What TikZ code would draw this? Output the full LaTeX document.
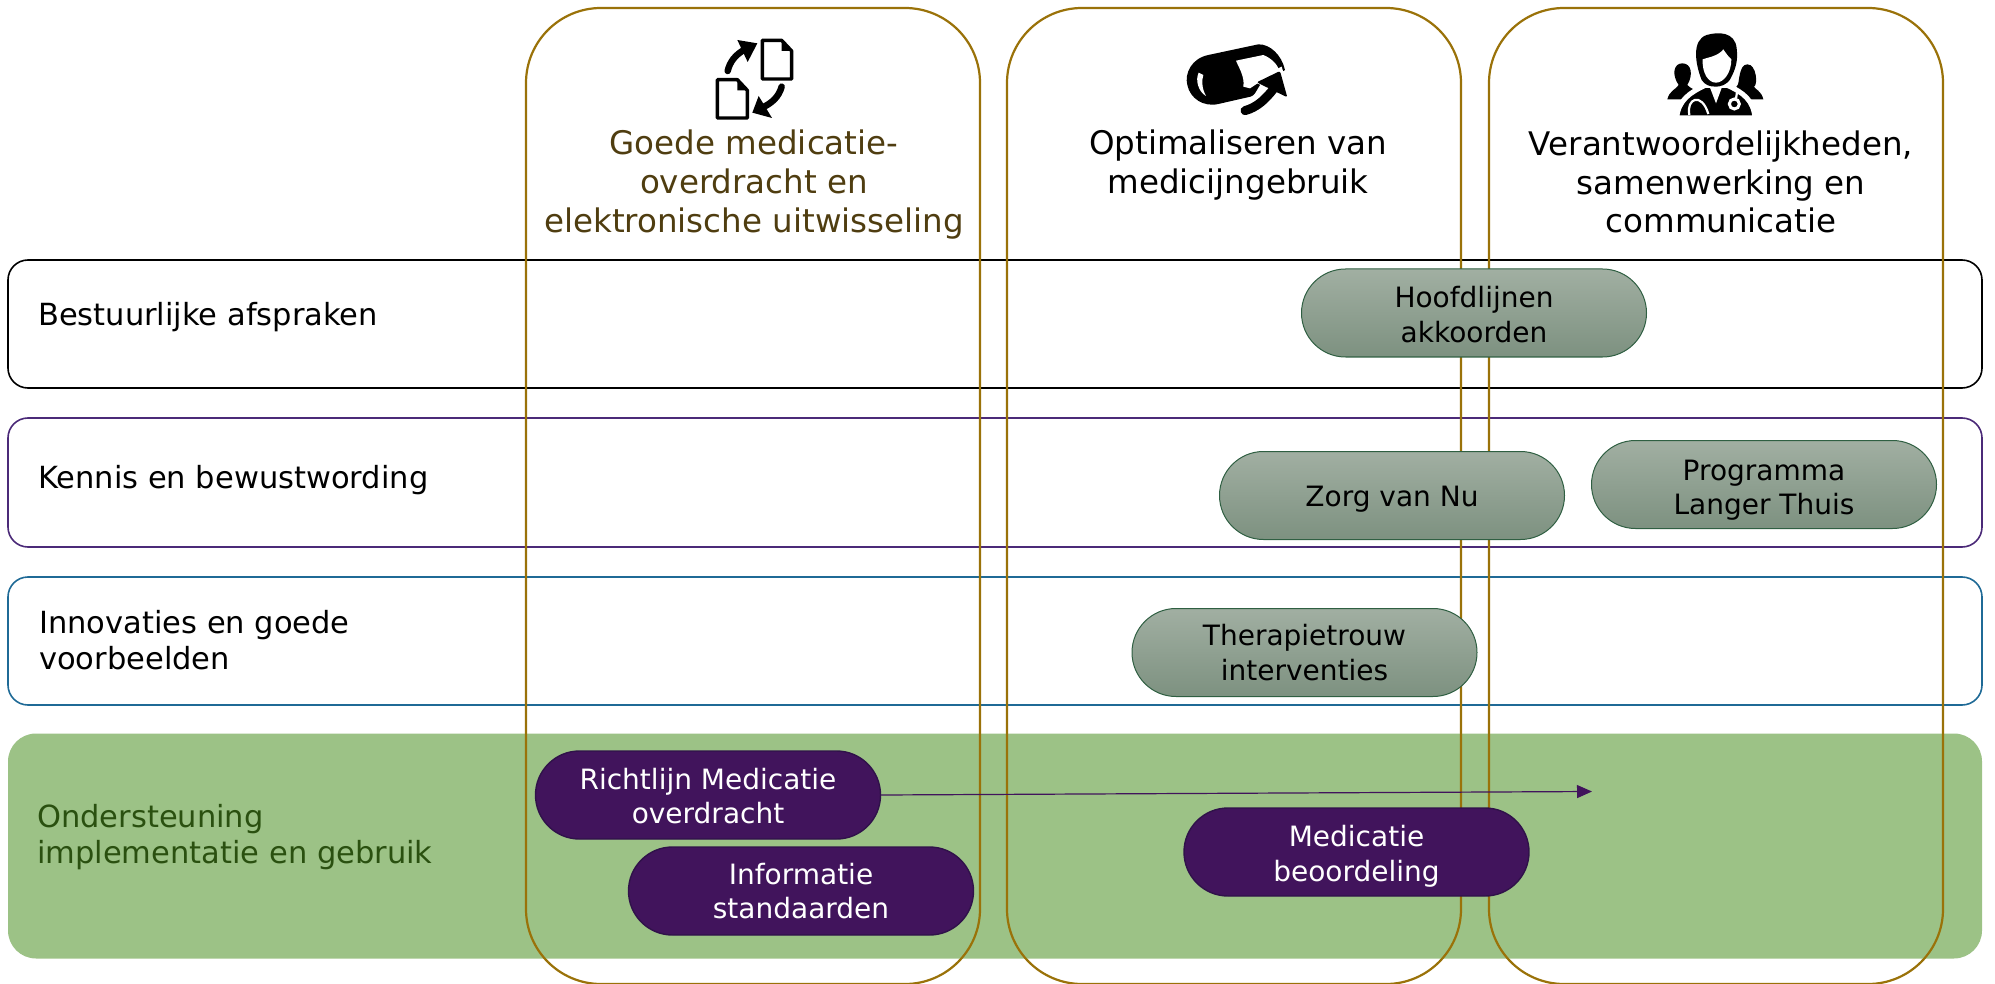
\documentclass[tikz,border=0pt]{standalone}
\usepackage{fontspec}
\setmainfont{DejaVu Sans}
\usetikzlibrary{arrows.meta,shapes.misc}
\definecolor{gold}{HTML}{9A7209}
\definecolor{brownT}{HTML}{4F3D10}
\definecolor{greenT}{HTML}{2A5010}
\definecolor{band}{HTML}{9CC286}
\definecolor{plum}{HTML}{41145C}
\definecolor{plumB}{HTML}{30124A}
\definecolor{rowP}{HTML}{4B2A78}
\definecolor{rowB}{HTML}{1F6A96}
\definecolor{sageT}{HTML}{A1AFA2}
\definecolor{sageB}{HTML}{7D9180}
\definecolor{sageL}{HTML}{2F5F42}
\newcommand{\lowerby}[1]{\rule{0pt}{#1}}
\tikzset{
  rowbox/.style={draw,line width=1.6pt,rounded corners=20pt,minimum width=1974pt,inner sep=0pt},
  colbox/.style={draw=gold,line width=2.2pt,rounded corners=75pt,minimum width=454pt,minimum height=976pt,inner sep=0pt},
  pillbase/.style={rounded rectangle,minimum width=345pt,minimum height=88pt,inner sep=0pt,align=center,font=\fontsize{28}{34.5}\selectfont},
  greenpill/.style={pillbase,draw=sageL,line width=1pt,top color=sageT,bottom color=sageB,text=black},
  plumpill/.style={pillbase,fill=plum,draw=plumB,line width=1.4pt,text=white},
  rowlabel/.style={anchor=west,inner sep=0pt,align=left,font=\fontsize{30.5}{36}\selectfont},
  headlabel/.style={inner sep=0pt,align=center,font=\fontsize{32.5}{38.8}\selectfont},
  icon/.style={fill=black,draw=none}
}
\begin{document}
\begin{tikzpicture}[x=1pt,y=-1pt]
\useasboundingbox (0,0) rectangle (1995,984);
% rows
\node[rowbox,draw=black,minimum height=128pt] (rowA) at (995,324) {};
\node[rowbox,draw=rowP,minimum height=129pt] (rowB) at (995,482.5) {};
\node[rowbox,draw=rowB,minimum height=128pt] (rowC) at (995,641) {};
\node[rowbox,draw=none,fill=band,rounded corners=28pt,minimum height=225pt] (rowD) at (995,846) {};
% columns
\node[colbox] (colA) at (753,496) {};
\node[colbox] (colB) at (1234,496) {};
\node[colbox] (colC) at (1716,496) {};
% row labels
\node[rowlabel] (lblA) at (38,317) {Bestuurlijke afspraken};
\node[rowlabel] (lblB) at (38,480) {Kennis en bewustwording};
\node[rowlabel] (lblC) at (39,640) {Innovaties en goede\\voorbeelden};
\node[rowlabel,text=greenT] (lblD) at (37,837) {Ondersteuning\\implementatie en gebruik};
% headings
\node[headlabel,text=brownT] (headA) at (754,184.5) {Goede medicatie-\\overdracht en\\elektronische uitwisseling};
\node[headlabel] (headB) at (1238,165) {Optimaliseren van\\medicijngebruik};
\node[headlabel] (headC) at (1721,182) {Verantwoordelijkheden,\\samenwerking en\\communicatie};
% pills
\node[greenpill] (hoofd) at (1474,313) {\lowerby{24.3pt}Hoofdlijnen\\akkoorden};
\node[greenpill] (zorg) at (1392,495.5) {\lowerby{27.5pt}Zorg van Nu};
\node[greenpill] (langer) at (1764,484.5) {\lowerby{32pt}Programma\\Langer Thuis};
\node[greenpill] (thera) at (1304.5,652.5) {Therapietrouw\\interventies};
\node[plumpill] (richt) at (708,795) {\lowerby{23.3pt}Richtlijn Medicatie\\overdracht};
\node[plumpill] (info) at (801,891) {Informatie\\standaarden};
\node[plumpill] (medi) at (1356.5,852) {\lowerby{30pt}Medicatie\\beoordeling};
\coordinate (arrowEnd) at (1592,791.5);
\draw[plum,line width=1.2pt,-{Triangle[length=15pt,width=13pt]}] (richt.east) -- (arrowEnd);
% icon 1
\begin{scope}[shift={(680,0)},scale=1/3]
  \draw[line width=3.4pt,line join=round,fill=white] (247,121) -- (305,121) -- (335,153) -- (335,237) -- (247,237) -- cycle;
  \draw[line width=3.4pt,line join=round,fill=white] (112,239) -- (172,239) -- (202,271) -- (202,354) -- (112,354) -- cycle;
  \fill (305,121) -- (335,153) -- (305,153) -- cycle;
  \fill (172,239) -- (202,271) -- (172,271) -- cycle;
  \draw[line width=6.5pt,line cap=round] (143,213) .. controls (150,185) and (165,165) .. (195,148);
  \fill[icon] (172,120) -- (232,130) -- (203,186) -- cycle;
  \draw[line width=6.5pt,line cap=round] (305,260) .. controls (297,290) and (275,310) .. (248,322);
  \fill[icon] (236,288) -- (217,338) -- (276,354) -- cycle;
\end{scope}
% icon 2
\begin{scope}[shift={(1150,20)},scale=1/3]
  \fill[icon] (405,150) .. controls (395,105) and (360,72) .. (325,73) -- (175,105) .. controls (125,115) and (103,160) .. (112,195) .. controls (120,235) and (160,262) .. (205,252) -- (310,228) -- (330,195) -- cycle;
  \fill[white] (258,122) -- (340,105) .. controls (365,115) and (385,135) .. (388,155) -- (330,185) -- (300,205) -- (280,200) .. controls (285,170) and (265,140) .. cycle;
  \fill[white] (146,158) .. controls (135,180) and (145,215) .. (168,228) .. controls (155,205) and (155,180) .. (160,165) -- cycle;
  \draw[white,line width=14pt] (285,272) -- (370,205);
  \fill[white] (305,182) -- (395,140) -- (425,240) -- cycle;
  \draw[line width=9pt,line cap=round] (285,272) .. controls (320,262) and (345,240) .. (372,205);
  \fill[icon,rounded corners=2pt] (320,187) -- (390,153) -- (412,232) -- cycle;
\end{scope}
% icon 3
\begin{scope}[shift={(1640,20)},scale=1/3]
  \fill[icon] (82,238) .. controls (88,212) and (108,208) .. (116,195) .. controls (95,165) and (100,130) .. (127,130) .. controls (155,130) and (160,165) .. (142,195) .. controls (150,205) and (170,210) .. (180,225) -- (130,238) -- cycle;
  \fill[icon] (370,238) .. controls (364,212) and (345,208) .. (342,200) .. controls (354,195) and (350,133) .. (322,133) .. controls (296,133) and (298,190) .. (293,195) .. controls (288,205) and (280,210) .. (270,225) -- (320,238) -- cycle;
  \draw[white,line width=5pt,fill=black] (110,294) .. controls (115,240) and (150,218) .. (195,196) -- (262,196) .. controls (310,218) and (340,240) .. (345,294) -- cycle;
  \fill[white] (205,190) -- (228,250) -- (250,190) -- cycle;
  \fill[icon] (185,180) .. controls (165,130) and (155,60) .. (200,45) .. controls (235,35) and (285,35) .. (290,85) .. controls (295,125) and (285,150) .. (272,175) .. controls (262,195) and (240,200) .. (228,200) .. controls (208,200) and (195,195) .. (185,180) -- cycle;
  \fill[white] (188,118) .. controls (205,112) and (235,108) .. (250,88) .. controls (258,100) and (265,110) .. (274,118) .. controls (274,160) and (250,188) .. (228,188) .. controls (205,188) and (186,160) .. (188,118) -- cycle;
  \draw[white,line width=2.2pt] (148,285) .. controls (138,235) and (185,215) .. (205,282);
  \draw[white,line width=2.2pt] (292,210) -- (288,236);
  \draw[white,line width=3pt] (283,252) circle[radius=15];
\end{scope}
\end{tikzpicture}
\end{document}
